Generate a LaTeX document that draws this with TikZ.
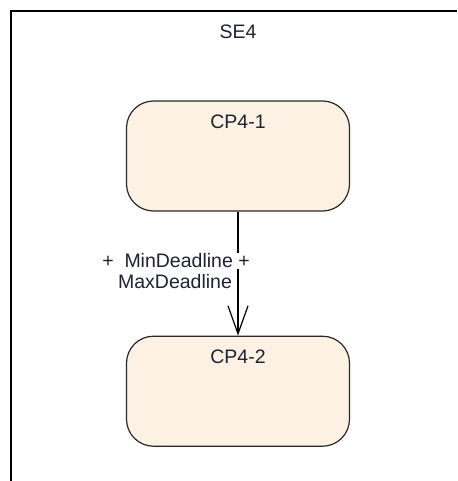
\documentclass[tikz,border=0pt]{standalone}
\usepackage{fontspec}
\setmainfont{Liberation Sans}
\usepackage{tikz}
\usetikzlibrary{arrows.meta,positioning}
\definecolor{statefill}{RGB}{252,241,227}
\definecolor{stateline}{RGB}{40,40,40}
\definecolor{labeltext}{RGB}{30,35,50}

\begin{document}
\begin{tikzpicture}[x=1pt,y=-1pt,>={Straight Barb[length=28pt,width=20pt]},node distance=124pt,
	main node/.style={draw=stateline, line width=1.2pt, fill=statefill, rounded corners=27pt, minimum width=223pt, minimum height=110pt},
	name label/.style={anchor=north, yshift=-8pt, text=labeltext}]
			\useasboundingbox (0,0) rectangle (457,481);
			\fontsize{19.5}{22}\selectfont
			
			% frame of SE4
			\coordinate (fr) at (11,11);
			\draw[line width=1.6pt] (fr |- 0,481) -- (fr) -- (457,11);
			\node[text=labeltext] (se) at (238,32) {SE4};
			
			\node[main node] (1) at (238,156) {};
			\node[main node] (2) [below=of 1] {};
			\node[name label] (1l) at (1.north) {CP4-1};
			\node[name label] (2l) at (2.north) {CP4-2};
			
			\draw[->, line width=1.2pt] (1) -- (2);
			\node[fill=white, inner sep=1pt, text=labeltext] (a) at (176,261) {+\ \ MinDeadline +};
			\node[inner sep=1pt, text=labeltext] (b) at (175,282) {MaxDeadline};
			
\end{tikzpicture}
\end{document}
